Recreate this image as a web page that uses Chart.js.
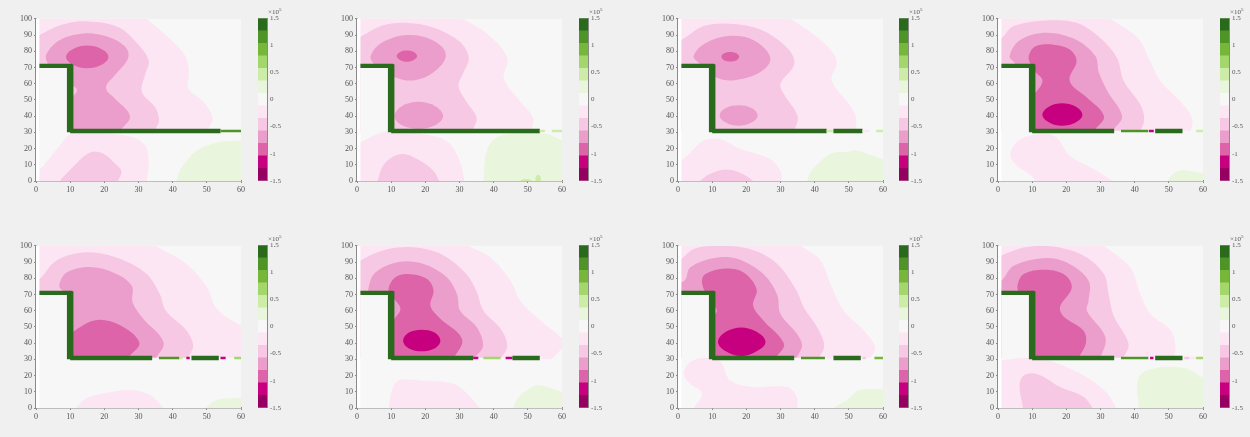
<!DOCTYPE html>
<html>
<head>
<meta charset="utf-8">
<title>Contour panels</title>
<script src="https://cdn.jsdelivr.net/npm/chart.js@4/dist/chart.umd.min.js"></script>
<style>
    html, body { margin: 0; padding: 0; width: 1250px; height: 437px; background: #f0f0f0; overflow: hidden; }
    canvas { position: absolute; filter: blur(0.5px); }
    .exp { position: absolute; font: 7px "Liberation Serif", serif; color: #555; line-height: 8px; }
    .exp sup { font-size: 5px; line-height: 0; vertical-align: 3px; }
</style>
</head>
<body>
<script>
// axis labels
const xTicks = [0, 10, 20, 30, 40, 50, 60];
const yTicks = [0, 10, 20, 30, 40, 50, 60, 70, 80, 90, 100];
const cbarTicks = [-1.5, -1, -0.5, 0, 0.5, 1, 1.5];
const cbarExponent = 5;

// colour bar: 13 bands between -1.5 and 1.5 (x10^5)
const cbarEdges = [-1.5, -1.269, -1.038, -0.808, -0.577, -0.346, -0.115, 0.115, 0.346, 0.577, 0.808, 1.038, 1.269, 1.5];
const cbarColors = ['#960060', '#c6007f', '#dd64a8', '#eb9ecb', '#f6c8e3', '#fde6f3', '#f7f7f7', '#e9f5dc', '#cdeca8', '#a4d76b', '#76b639', '#4e9427', '#2a6a1c'];

// contour outlines [x, y]; u = above the wall, d = below it, g = green patch
const p1u1 = [[29,105],[32.4,100],[39,88],[43.7,77],[44.8,66],[44.6,57],[49,49],[51.7,39],[50.5,32],[50,26],[-3,26],[-3,105]];
const p1u2 = [[-3,87],[1,90],[7,96],[14,98.5],[24,95],[30,84],[33,74],[32,66],[31,55],[35,45],[36,37],[35,32],[34,26],[-3,26]];
const p1u3 = [[3,78],[7,87],[14,91],[21,89],[26,83],[27,76],[23,65],[20.5,57.5],[23,51],[27.5,40],[25,32],[23,27],[9,27],[10,50],[12,56],[10,60],[9,65],[5,68],[3.5,72]];
const p1u4 = [[8.8,76.5],[11,81.5],[15,83.5],[19,81.5],[21.2,76.5],[19,71.5],[15,69.5],[11,71.5]];
const p1d1 = [[-3,2],[1,7],[6.5,20.7],[10.4,29.5],[15,30.5],[21.6,29.3],[28.5,27],[32,21.7],[33,12],[32.4,0],[32,-6],[-3,-6]];
const p1d2 = [[7,0],[10,7],[15.8,17.6],[19.6,17],[23.5,10],[25,6],[24,0],[23,-6],[6,-6]];
const p1g = [[41,0],[42.6,8],[47,18.6],[53,23.8],[60,24.8],[67,25],[67,-6],[40,-6]];
const p1w = [[10,54,12],[54,60,11]];

const p2u1 = [[28,105],[31,100],[38,91],[44,76],[43,63],[47.8,49],[51.5,39],[51,31],[50,26],[-3,26],[-3,105]];
const p2u2 = [[-3,86],[1,89],[7,95.5],[13.7,97.5],[22.5,94.5],[30,86],[32.7,76],[31,66],[29.7,58.6],[32,49],[35,39],[34,32],[33,26],[-3,26]];
const p2u3 = [[4,77],[7,85],[14.6,90],[22,87],[26,78],[22.4,67],[16.6,62],[11,64],[7,69],[5,72]];
const p2u3b = [[11,40],[13,46],[18,48.8],[23,46],[25.2,40],[23,34.5],[18,32],[13,34.5]];
const p2u4 = [[11.6,77],[12.6,79.6],[14.6,80.5],[16.6,79.6],[17.6,77],[16.6,74.6],[14.6,73.5],[12.6,74.6]];
const p2d1 = [[-3,22],[1,24],[6,29],[10,31],[18,29.3],[26,25],[29.7,14.5],[31.5,0],[32,-6],[-3,-6]];
const p2d2 = [[6,0],[8,10.5],[13,16.6],[18.5,12.5],[22.5,6],[24,0],[25,-6],[5,-6]];
const p2g = [[37,0],[38,18.6],[41,27],[47,29.5],[55.7,29],[60,25],[67,22],[67,-6],[37,-6]];
const p2g2 = [[52.3,0],[53,3.8],[53.8,0]];
const p2g3 = [[48,0],[49.5,1.2],[51,0]];
const p2w = [[10,53.5,12],[53.5,55,8],[57,60,8]];

const p3u1 = [[30,105],[33,100],[40,90],[45,80],[46.5,73],[45,62],[49.5,49],[52,40],[52,31],[51,26],[-3,26],[-3,105]];
const p3u2 = [[-3,84],[1,87],[7.5,95.5],[15,97],[24,93.5],[32,82],[34,72],[30,60],[31,53.5],[35,40],[34,31],[33,26],[-3,26]];
const p3u3 = [[4.6,77],[8,85],[15.3,89.5],[22,87],[27,76],[24,67],[16,62],[11,64],[8,69],[6.5,72]];
const p3u3b = [[12.2,40.4],[14,45],[17.7,46.7],[21.5,45],[23.3,40.4],[21.5,36],[17.7,34],[14,36]];
const p3u4 = [[12.7,76.6],[13.5,78.8],[15.3,79.6],[17.1,78.8],[17.9,76.6],[17.1,74.4],[15.3,73.6],[13.5,74.4]];
const p3d1 = [[-3,9],[1,12.5],[5.6,21.7],[7.5,25],[12,26],[18,20],[27,13.5],[30,6],[30.3,0],[30,-6],[-3,-6]];
const p3d2 = [[6.5,0],[9,4],[13.4,7],[18,5.3],[22,0],[24,-6],[4,-6]];
const p3g = [[37.8,0],[39,6],[44.6,16.6],[50,18],[52,19],[60,13.5],[67,10],[67,-6],[37,-6]];
const p3w = [[10,43.5,12],[43.5,45.5,8],[45.5,54,12],[54,56,5],[58,60,8]];

const p4u1 = [[30,105],[33,100],[41,88],[44.5,74],[47.5,61.7],[53.4,49],[56.8,39],[56.3,30.5],[55,26],[-3,26],[-3,105]];
const p4u2 = [[-3,84],[1,88],[4.6,95.5],[14.3,99],[23,97.5],[30,88],[34.8,76],[36.8,61.7],[41.7,47],[42.8,38],[41.7,31],[40,26],[-3,26]];
const p4u3 = [[3.4,77],[6.5,87],[14.3,91.4],[23,87],[28.5,77],[29.5,67],[32,55.5],[36.3,40],[34,32],[32,26],[5,26],[4,68],[5,72]];
const p4u4 = [[9,77],[11,83],[16.3,84],[21,81],[23,74],[21,61.7],[26,51.5],[31,40],[28.5,32],[26,26],[9,26],[9,50],[10.6,53.5],[13,61.7],[11,67],[9.5,72]];
const p4u5 = [[13,40.8],[15,46],[18.7,48],[22.7,46],[24.7,40.8],[22.7,36],[18.7,34],[15,36]];
const p4d1 = [[3.6,16.6],[6,25],[12.4,29],[17,27],[21,15.6],[28,7.4],[33.4,0],[36,-6],[9,-6],[11,0],[5,10.5]];
const p4g = [[49.5,0],[53,6.4],[60,5],[67,5],[67,-6],[48,-6]];
const p4w = [[10,34,12],[36,44,11],[44.2,45.6,1],[46,54,12],[58,60,8]];

const p5u1 = [[32,105],[35,100],[44,89],[50,74.6],[53,61],[60,51],[68,46],[68,26],[-3,26],[-3,105]];
const p5u2 = [[-3,76],[1,79.5],[6,91],[15,96],[24.6,92],[32.4,82.6],[36.3,70],[38,60],[44,48],[46,38.6],[44.6,31.5],[43,26],[-3,26]];
const p5u3 = [[6.8,75.5],[9,83.6],[15.8,87],[22.6,83.6],[28,75.5],[28.3,65],[31.4,55],[37.3,40.7],[35.3,31.5],[33,26],[8,26],[7,68],[8,71]];
const p5u4 = [[9,42],[13.8,51],[18.7,54.4],[24.6,51],[30.2,40.7],[28,33.5],[24.6,29],[9,27]];
const p5d1 = [[11.7,0],[14.8,6],[20.7,9.4],[28.5,11],[33.4,8],[37.3,0],[39,-6],[10,-6]];
const p5g = [[49.8,0],[53,5],[60,6],[67,6],[67,-6],[48,-6]];
const p5w = [[10,34,12],[36,42,11],[42,43,8],[44,45,1],[45.5,53.5,12],[54,55.5,1],[58,60,9]];

const p6u1 = [[30,105],[32.7,100],[39,93],[45,78.5],[47.8,66],[53.7,54],[60,43],[60.5,38.6],[57.6,31.5],[55,26],[-3,26],[-3,105]];
const p6u2 = [[-3,87],[1,91],[6,96],[11.7,99],[18.5,98.6],[25.4,94],[32,82.6],[35,72],[37,60],[42,49],[44,38.6],[42.4,31.5],[40,26],[-3,26]];
const p6u3 = [[3.4,74.5],[5.4,83.6],[12.2,90],[19.5,88.8],[26.3,80.6],[29.3,70],[30.2,60],[35,50],[36.9,38.6],[34.6,31.5],[32,26],[5,26],[3.5,66]];
const p6u4 = [[9.3,74.5],[11.2,80.6],[15,82.6],[20.5,79.5],[22.4,72.4],[21.5,63],[24.4,55],[30.7,42.7],[28.8,32.5],[26,27],[9,27],[9,48],[11,55],[12.7,61],[11,67],[9.5,71]];
const p6u5 = [[13.5,41.5],[15.2,46.5],[18.9,48.3],[22.7,46.5],[24.4,41.5],[22.7,36.7],[18.9,35],[15.2,36.7]];
const p6d1 = [[9.3,0],[10.2,11],[12.2,17],[18.5,17],[28.3,15],[32.2,9],[36,0],[38,-6],[9,-6]];
const p6g = [[45.7,0],[47,6],[49.8,11],[53,14],[60,10],[67,8],[67,-6],[45,-6]];
const p6w = [[10,34,12],[34,35.5,1],[37,42,9],[43.5,45.5,1],[45.5,53.5,12],[54,57,5]];

const p7u1 = [[33,105],[36,100],[41.7,91],[45,74.5],[48.5,60],[54.3,48],[57.7,37.6],[56.3,30.5],[55,26],[-3,26],[-3,105]];
const p7u2 = [[-3,88],[1,92],[4.6,98],[11.4,100],[21,98],[29,89],[34.8,72],[36.8,62],[40.7,50],[42.8,38.6],[41.2,30.5],[40,26],[-3,26]];
const p7u3 = [[-2,76],[1.9,78.5],[3.6,86.7],[10.4,92.4],[17.3,92],[25,82.6],[29,70],[30,58],[34.8,45.8],[36.3,38.6],[34.8,31.5],[33,26],[-2,26]];
const p7u4 = [[7,77.5],[8,82.6],[13.9,86],[19.2,83.6],[23,73.4],[22,63],[25,54],[31,39.7],[29,32],[27,27],[9,27],[9.5,52],[10.6,57],[11.4,60],[10.6,63],[8.5,69]];
const p7u5 = [[11.7,40.7],[14,47],[18.5,49.7],[23,47],[25.6,40.7],[23,35],[18.5,32],[14,35]];
const p7d1 = [[1.7,21],[3.6,28.4],[8,31],[12.4,28.4],[15.3,17],[22,13],[32,13],[34.8,7],[35,0],[36,-6],[3,-6],[4.6,0],[7,9],[3.6,15]];
const p7g = [[45.6,0],[49.5,5],[53,11],[60,11.6],[67,12],[67,-6],[44,-6]];
const p7w = [[10,34,12],[36,43,11],[43.5,45,5],[45.5,53.5,12],[54,55,4],[57.5,60,10]];

const p8u1 = [[28,105],[31,100],[38.7,86.7],[41.7,70],[44.6,58],[50.5,48],[52,37.6],[51.4,31.5],[50,26],[-3,26],[-3,105]];
const p8u2 = [[-3,90],[1,94],[7.5,99],[16,99.6],[25,94],[31,82.6],[32.4,70],[33.8,57],[38.2,39.7],[36.8,31.5],[35,26],[-3,26]];
const p8u3 = [[-3,74],[1,78.5],[4.6,87.7],[13.4,92.4],[20,89.8],[26.5,78.5],[26.5,66],[26,60],[31.4,43.8],[30,31.5],[28,26],[-3,26]];
const p8u4 = [[5.7,75.5],[7.5,82.6],[13.4,85.3],[19.2,82.6],[21.6,74.4],[18.2,60],[25,47.8],[25.8,40.7],[24,32.5],[22,27],[8,27],[7,60],[6,71]];
const p8d1 = [[-3,27],[1,29.4],[10.4,31],[16.3,28.4],[26,19],[32,9],[34.6,0],[36,-6],[-3,-6]];
const p8d2 = [[7.3,0],[6.3,13],[7.5,20],[11.4,21],[18.2,13],[25,7],[27.7,0],[29,-6],[7,-6]];
const p8g = [[41.2,0],[41.2,19],[46.5,24.7],[55,24.3],[60,19],[67,17],[67,-6],[41,-6]];
const p8w = [[10,34,12],[36,44,11],[44.5,45.5,1],[46,54,12],[54.5,56,4],[56,58,5],[58,60,9]];

// wall common to all panels, and the solid parts the contours do not cross
const wallTopX = [1, 10.6];
const wallTopY = [71, 71];
const wallSideX = [10, 10];
const wallSideY = [72, 30];
const wallFootY = 30.8;
const blockOutline = [[1,31],[1,71],[10,71],[10,31],[67,31],[67,-8],[-3,-8],[-3,31]];
const fieldOutline = [[1,0],[1,100],[60,100],[60,0]];
const plotOutline = [[0,0],[0,100],[60,100],[60,0]];
const stripOutline = [[0,0],[0,100],[1,100],[1,0]];

// band index into cbarColors for every outline, painted in this order
const panels = [
    { upper: [[5,p1u1],[4,p1u2],[3,p1u3],[2,p1u4]], lower: [[5,p1d1],[4,p1d2],[7,p1g]], wall: p1w },
    { upper: [[5,p2u1],[4,p2u2],[3,p2u3],[3,p2u3b],[2,p2u4]], lower: [[5,p2d1],[4,p2d2],[7,p2g],[8,p2g2],[8,p2g3]], wall: p2w },
    { upper: [[5,p3u1],[4,p3u2],[3,p3u3],[3,p3u3b],[2,p3u4]], lower: [[5,p3d1],[4,p3d2],[7,p3g]], wall: p3w },
    { upper: [[5,p4u1],[4,p4u2],[3,p4u3],[2,p4u4],[1,p4u5]], lower: [[5,p4d1],[7,p4g]], wall: p4w },
    { upper: [[5,p5u1],[4,p5u2],[3,p5u3],[2,p5u4]], lower: [[5,p5d1],[7,p5g]], wall: p5w },
    { upper: [[5,p6u1],[4,p6u2],[3,p6u3],[2,p6u4],[1,p6u5]], lower: [[5,p6d1],[7,p6g]], wall: p6w },
    { upper: [[5,p7u1],[4,p7u2],[3,p7u3],[2,p7u4],[1,p7u5]], lower: [[5,p7d1],[7,p7g]], wall: p7w },
    { upper: [[5,p8u1],[4,p8u2],[3,p8u3],[2,p8u4]], lower: [[5,p8d1],[4,p8d2],[7,p8g]], wall: p8w }
];

// layout, in page pixels
const plotLefts = [36, 357, 678, 998];
const plotTops = [18, 245];
const cbarLefts = [258, 579, 899, 1220];
const plotWidth = 205;
const plotHeight = 163;
const cbarWidth = 9;
const axisFont = { family: '"Liberation Serif", serif', size: 8 };
const axisColor = '#8a8a8a';
const labelColor = '#555555';

// Chart.js has no closed polygon fill, so trace each outline through the points the scales placed
const regionFill = {
    id: 'regionFill',
    beforeDatasetDraw(chart, args) {
        const ds = chart.data.datasets[args.index];
        if (!ds.region) return;
        const pts = args.meta.data;
        const n = pts.length;
        const area = chart.chartArea;
        const ctx = chart.ctx;
        ctx.save();
        ctx.beginPath();
        ctx.rect(area.left, area.top, area.width, area.height);
        ctx.clip();
        ctx.beginPath();
        ctx.moveTo(pts[0].x, pts[0].y);
        for (let i = 0; i < n; i++) {
            const p0 = pts[(i - 1 + n) % n];
            const p1 = pts[i];
            const p2 = pts[(i + 1) % n];
            const p3 = pts[(i + 2) % n];
            if (ds.sharp) {
                ctx.lineTo(p2.x, p2.y);
            } else {
                // tangents scaled by the chord, so uneven vertex spacing does not kink the curve
                const chord = Math.hypot(p2.x - p1.x, p2.y - p1.y) / 3;
                const d1 = Math.hypot(p2.x - p0.x, p2.y - p0.y) || 1;
                const d2 = Math.hypot(p3.x - p1.x, p3.y - p1.y) || 1;
                ctx.bezierCurveTo(p1.x + (p2.x - p0.x) / d1 * chord, p1.y + (p2.y - p0.y) / d1 * chord,
                    p2.x - (p3.x - p1.x) / d2 * chord, p2.y - (p3.y - p1.y) / d2 * chord, p2.x, p2.y);
            }
        }
        ctx.closePath();
        ctx.fillStyle = ds.region;
        ctx.fill();
        ctx.restore();
    }
};

function regionSet(outline, color, sharp) {
    return {
        data: outline.map(p => ({ x: p[0], y: p[1] })),
        region: color,
        sharp: !!sharp,
        showLine: false,
        pointRadius: 0
    };
}

function wallSet(xs, ys, color, width) {
    return {
        data: xs.map((x, i) => ({ x: x, y: ys[i] })),
        showLine: true,
        borderColor: color,
        borderWidth: width,
        borderCapStyle: 'butt',
        pointRadius: 0
    };
}

function buildDatasets(panel) {
    const sets = [];
    sets.push(regionSet(plotOutline, '#ffffff', true));
    sets.push(regionSet(fieldOutline, cbarColors[6], true));
    panel.upper.forEach(c => sets.push(regionSet(c[1], cbarColors[c[0]])));
    sets.push(regionSet(blockOutline, cbarColors[6], true));
    panel.lower.forEach(c => sets.push(regionSet(c[1], cbarColors[c[0]])));
    sets.push(regionSet(stripOutline, '#ffffff', true));
    panel.wall.forEach(w => {
        sets.push(wallSet([w[0], w[1]], [wallFootY, wallFootY], cbarColors[w[2]], w[2] === 12 ? 4.4 : 2.6));
    });
    sets.push(wallSet(wallTopX, wallTopY, cbarColors[12], 4.4));
    sets.push(wallSet(wallSideX, wallSideY, cbarColors[12], 6.5));
    // first dataset is painted last by Chart.js, so flip it
    sets.forEach((s, i) => { s.order = sets.length - i; });
    return sets;
}

function addCanvas(left, top, width, height) {
    const canvas = document.createElement('canvas');
    canvas.width = width;
    canvas.height = height;
    canvas.style.left = left + 'px';
    canvas.style.top = top + 'px';
    canvas.style.width = width + 'px';
    canvas.style.height = height + 'px';
    document.body.appendChild(canvas);
    return canvas;
}

function drawPanel(panel, col, row) {
    const left = plotLefts[col];
    const top = plotTops[row];
    const canvas = addCanvas(left - 36, top - 6, 36 + plotWidth + 12, 6 + plotHeight + 18);
    new Chart(canvas, {
        type: 'scatter',
        data: { datasets: buildDatasets(panel) },
        plugins: [regionFill],
        options: {
            responsive: false,
            animation: false,
            events: [],
            layout: { autoPadding: false, padding: { left: 0, right: 12, top: 6, bottom: 0 } },
            plugins: { legend: { display: false }, tooltip: { enabled: false } },
            scales: {
                x: {
                    type: 'linear',
                    min: xTicks[0],
                    max: xTicks[xTicks.length - 1],
                    afterBuildTicks: s => { s.ticks = xTicks.map(v => ({ value: v })); },
                    afterFit: s => { s.height = 18; },
                    grid: { drawOnChartArea: false, tickLength: 2, tickColor: axisColor },
                    border: { color: axisColor, width: 1.5 },
                    ticks: { font: axisFont, color: labelColor, padding: 2, maxRotation: 0 }
                },
                y: {
                    type: 'linear',
                    min: yTicks[0],
                    max: yTicks[yTicks.length - 1],
                    afterBuildTicks: s => { s.ticks = yTicks.map(v => ({ value: v })); },
                    afterFit: s => { s.width = 36; },
                    grid: { drawOnChartArea: false, tickLength: 2, tickColor: axisColor },
                    border: { color: axisColor, width: 1.5 },
                    ticks: { font: axisFont, color: labelColor, padding: 2 }
                }
            }
        }
    });
}

function drawColorbar(col, row) {
    const left = cbarLefts[col];
    const top = plotTops[row];
    const canvas = addCanvas(left, top - 6, cbarWidth + 24, 6 + plotHeight + 6);
    new Chart(canvas, {
        type: 'bar',
        data: {
            labels: [''],
            datasets: cbarColors.map((c, i) => ({
                data: [[cbarEdges[i], cbarEdges[i + 1]]],
                backgroundColor: c,
                barPercentage: 1,
                categoryPercentage: 1,
                grouped: false
            }))
        },
        options: {
            responsive: false,
            animation: false,
            events: [],
            layout: { autoPadding: false, padding: { left: 0, right: 0, top: 6, bottom: 6 } },
            plugins: { legend: { display: false }, tooltip: { enabled: false } },
            scales: {
                x: { display: false },
                y: {
                    position: 'right',
                    min: cbarTicks[0],
                    max: cbarTicks[cbarTicks.length - 1],
                    afterBuildTicks: s => { s.ticks = cbarTicks.map(v => ({ value: v })); },
                    afterFit: s => { s.width = 24; },
                    grid: { drawOnChartArea: false, tickLength: 1, tickColor: axisColor },
                    border: { color: axisColor, width: 1 },
                    ticks: { font: { family: axisFont.family, size: 7 }, color: labelColor, padding: 2, callback: v => String(v) }
                }
            }
        }
    });
    const exp = document.createElement('div');
    exp.className = 'exp';
    exp.style.left = (left + 10) + 'px';
    exp.style.top = (top - 10) + 'px';
    exp.innerHTML = '×10<sup>' + cbarExponent + '</sup>';
    document.body.appendChild(exp);
}

panels.forEach((panel, i) => {
    const col = i % 4;
    const row = Math.floor(i / 4);
    drawPanel(panel, col, row);
    drawColorbar(col, row);
});
</script>
</body>
</html>
